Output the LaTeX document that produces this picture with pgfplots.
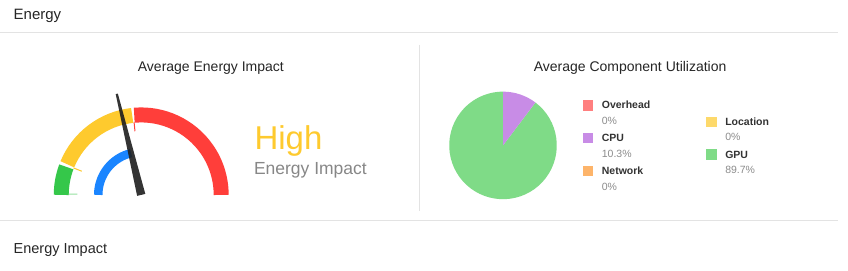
\documentclass[border=0pt]{standalone}
\usepackage{pgfplots}
\pgfplotsset{compat=1.18}
\usepackage{pgfplotstable}
\usepackage{fontspec}
\setmainfont{Liberation Sans}
\definecolor{ggreen}{RGB}{53,199,74}
\definecolor{glgreen}{RGB}{150,225,160}
\definecolor{gyellow}{RGB}{254,202,46}
\definecolor{gred}{RGB}{255,62,58}
\definecolor{gblue}{RGB}{26,133,255}
\definecolor{needle}{RGB}{30,30,30}
\definecolor{pgreen}{RGB}{127,219,135}
\definecolor{ppurple}{RGB}{200,140,230}
\definecolor{poverhead}{RGB}{255,127,127}
\definecolor{pnetwork}{RGB}{253,180,106}
\definecolor{plocation}{RGB}{253,217,107}
\definecolor{sep}{RGB}{227,227,227}
\definecolor{titletext}{RGB}{38,38,38}
\definecolor{labtext}{RGB}{51,51,51}
\definecolor{pcttext}{RGB}{140,140,140}
\definecolor{subtext}{RGB}{135,135,135}
% component utilization (percent)
\pgfplotstableread{
name     pct
Overhead 0
CPU      10.3
Network  0
Location 0
GPU      89.7
}\utiltable
% gauge: segment angles (deg) and needle angle
\def\gGreenA{180}\def\gGreenB{159.5}
\def\gYellowA{157.5}\def\gYellowB{96.5}
\def\gRedA{95}\def\gRedB{0}
\def\nang{103.6}
\pgfmathsetmacro\cpuend{90-10.3*3.6}
\begin{document}
\begin{tikzpicture}
\begin{axis}[width=848pt,height=271pt,scale only axis,
  xmin=0,xmax=848,ymin=0,ymax=271,hide axis,clip=false]
\fill[white] (axis cs:0,0) rectangle (axis cs:848,271);
% separators
\draw[sep,line width=1pt] (axis cs:0,238) -- (axis cs:838,238);
\draw[sep,line width=1pt] (axis cs:0,50) -- (axis cs:838,50);
\draw[sep,line width=1pt] (axis cs:419,226) -- (axis cs:419,60);
% titles
\node[anchor=base west,inner sep=0pt,font=\fontsize{15}{18}\selectfont,text=titletext] at (axis cs:13,251.5) {Energy};
\node[anchor=base west,inner sep=0pt,font=\fontsize{14.5}{18}\selectfont,text=titletext] at (axis cs:13,17) {Energy Impact};
\node[anchor=base,inner sep=0pt,font=\fontsize{14}{17}\selectfont,text=titletext] at (axis cs:210.5,199) {Average Energy Impact};
\node[anchor=base,inner sep=0pt,font=\fontsize{14}{17}\selectfont,text=titletext] at (axis cs:630,199) {Average Component Utilization};
% gauge
\coordinate (C) at (axis cs:140.8,76);
\draw[ggreen,line width=15pt] ([shift={(\gGreenA:80)}]C) arc[start angle=\gGreenA,end angle=\gGreenB,radius=80pt];
\draw[gyellow,line width=15pt] ([shift={(\gYellowA:80)}]C) arc[start angle=\gYellowA,end angle=\gYellowB,radius=80pt];
\draw[gred,line width=15pt] ([shift={(\gRedA:80)}]C) arc[start angle=\gRedA,end angle=\gRedB,radius=80pt];
\draw[glgreen,line width=1pt] ([shift={(179.4:64)}]C) -- ([shift={(179.4:73)}]C);
\draw[gyellow,line width=1pt] ([shift={(158.3:64)}]C) -- ([shift={(158.3:73)}]C);
\draw[gred,line width=1pt] ([shift={(95.6:64)}]C) -- ([shift={(95.6:73)}]C);
\draw[gblue,line width=8.5pt] ([shift={(180:43)}]C) arc[start angle=180,end angle=\nang,radius=43pt];
\fill[needle,opacity=0.9] ([shift={(\nang-90:4.2)}]C) -- ([shift={(\nang+90:4.2)}]C)
  -- ([shift={(\nang+0.6:104)}]C) -- ([shift={(\nang-0.6:104)}]C) -- cycle;
\node[anchor=base west,inner sep=0pt,font=\fontsize{33}{36}\selectfont,text=gyellow] at (axis cs:254,121) {High};
\node[anchor=base west,inner sep=0pt,font=\fontsize{17.5}{20}\selectfont,text=subtext] at (axis cs:253.5,96) {Energy Impact};
% pie
\coordinate (P) at (axis cs:502.8,125.5);
\fill[pgreen] (P) -- ([shift={(\cpuend:53.8)}]P) arc[start angle=\cpuend,end angle=-270,radius=53.8pt] -- cycle;
\fill[ppurple] (P) -- ([shift={(90:53.8)}]P) arc[start angle=90,end angle=\cpuend,radius=53.8pt] -- cycle;
% legend squares
\addplot[only marks,mark=square*,mark size=4.8pt,mark options={line width=0pt,draw=poverhead,fill=poverhead}] coordinates {(588,165.7)};
\addplot[only marks,mark=square*,mark size=4.8pt,mark options={line width=0pt,draw=ppurple,fill=ppurple}] coordinates {(588,133)};
\addplot[only marks,mark=square*,mark size=4.8pt,mark options={line width=0pt,draw=pnetwork,fill=pnetwork}] coordinates {(588,100)};
\addplot[only marks,mark=square*,mark size=4.8pt,mark options={line width=0pt,draw=plocation,fill=plocation}] coordinates {(711.7,149)};
\addplot[only marks,mark=square*,mark size=4.8pt,mark options={line width=0pt,draw=pgreen,fill=pgreen}] coordinates {(711.7,116.3)};
\tikzset{lab/.style={anchor=base west,inner sep=0pt,font=\fontsize{10.5}{12}\selectfont\bfseries,text=labtext},
  pct/.style={anchor=base west,inner sep=0pt,font=\fontsize{10.5}{12}\selectfont,text=pcttext}}
\node[lab] at (axis cs:601.5,162.2) {Overhead};
\node[pct] at (axis cs:601.5,146.5) {0\%};
\node[lab] at (axis cs:601.5,129.2) {CPU};
\node[pct] at (axis cs:601.5,113.7) {10.3\%};
\node[lab] at (axis cs:601.5,96) {Network};
\node[pct] at (axis cs:601.5,80.5) {0\%};
\node[lab] at (axis cs:725,145.3) {Location};
\node[pct] at (axis cs:725,130.5) {0\%};
\node[lab] at (axis cs:725,112.5) {GPU};
\node[pct] at (axis cs:725,97.7) {89.7\%};
\end{axis}
\end{tikzpicture}
\end{document}
